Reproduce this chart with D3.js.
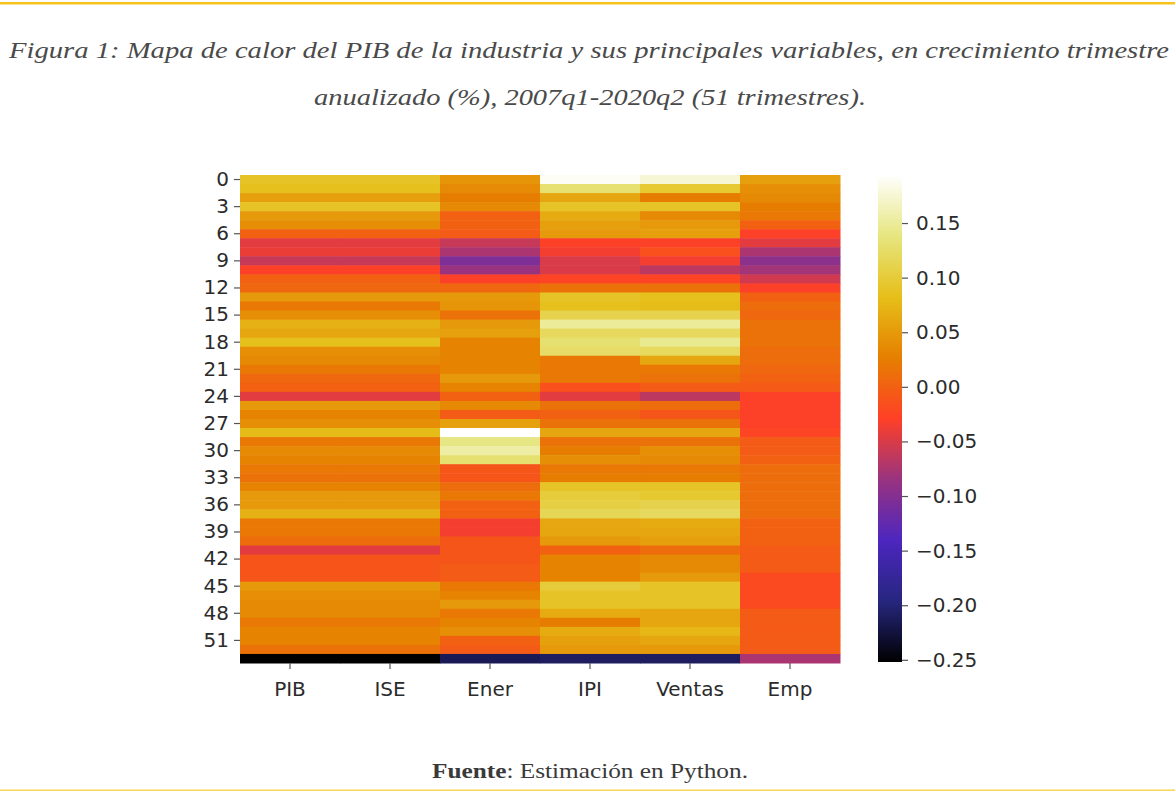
<!DOCTYPE html>
<html>
<head>
<meta charset="utf-8">
<script src="https://cdn.jsdelivr.net/npm/d3@7"></script>
<style>
  html, body { margin: 0; padding: 0; background: #ffffff; }
  svg { display: block; }
</style>
</head>
<body>
<svg id="chart" width="1175" height="793"></svg>
<script>
// Quarterly annualised growth, 2007q1-2020q2 (rows 0..53)
const variables = ["PIB", "ISE", "Ener", "IPI", "Ventas", "Emp"];

const pib = [0.09, 0.085, 0.055, 0.09, 0.05, 0.04, 0.0, -0.045, -0.04, -0.06,
  -0.03, 0.0, 0.005, 0.05, 0.02, 0.04, 0.07, 0.06, 0.085, 0.04,
  0.035, 0.02, 0.005, 0.0, -0.045, 0.05, 0.03, 0.04, 0.08, 0.02,
  0.035, 0.03, 0.02, 0.015, 0.03, 0.05, 0.05, 0.07, 0.02, 0.02,
  0.01, -0.045, -0.01, -0.01, -0.01, 0.05, 0.04, 0.035, 0.035, 0.02,
  0.03, 0.03, 0.015, -0.252];

const ise = [0.09, 0.085, 0.055, 0.09, 0.05, 0.04, 0.0, -0.045, -0.04, -0.06,
  -0.03, 0.0, 0.005, 0.05, 0.02, 0.04, 0.07, 0.06, 0.085, 0.04,
  0.035, 0.02, 0.005, 0.0, -0.045, 0.05, 0.03, 0.04, 0.08, 0.02,
  0.035, 0.03, 0.02, 0.015, 0.03, 0.05, 0.05, 0.07, 0.02, 0.02,
  0.01, -0.045, -0.01, -0.01, -0.01, 0.05, 0.04, 0.035, 0.035, 0.02,
  0.03, 0.03, 0.015, -0.252];

const ener = [0.045, 0.035, 0.025, 0.035, 0.0, 0.0, -0.005, -0.06, -0.075, -0.105,
  -0.085, -0.03, 0.005, 0.05, 0.045, 0.015, 0.05, 0.055, 0.03, 0.03,
  0.03, 0.03, 0.05, 0.03, 0.0, 0.035, -0.005, 0.055, 0.194, 0.14,
  0.155, 0.13, -0.01, -0.01, 0.01, 0.02, 0.0, 0.0, -0.035, -0.035,
  -0.01, -0.01, -0.01, -0.005, -0.005, 0.02, 0.03, 0.05, 0.02, 0.03,
  0.04, 0.0, -0.005, -0.215];

const ipi = [0.19, 0.13, 0.06, 0.09, 0.065, 0.055, 0.05, -0.03, -0.035, -0.05,
  -0.05, -0.025, 0.015, 0.09, 0.085, 0.11, 0.15, 0.12, 0.13, 0.125,
  0.02, 0.02, 0.02, -0.015, -0.045, 0.015, 0.0, 0.015, 0.06, 0.015,
  0.025, 0.04, 0.02, 0.025, 0.09, 0.1, 0.105, 0.115, 0.06, 0.06,
  0.05, 0.0, 0.03, 0.03, 0.03, 0.1, 0.09, 0.09, 0.065, 0.025,
  0.065, 0.055, 0.05, -0.21];

const ventas = [0.175, 0.095, 0.025, 0.09, 0.035, 0.05, 0.055, -0.03, -0.015, -0.035,
  -0.065, -0.025, 0.015, 0.085, 0.08, 0.11, 0.15, 0.12, 0.145, 0.12,
  0.06, 0.02, 0.015, -0.005, -0.065, 0.01, -0.01, 0.015, 0.06, 0.015,
  0.04, 0.035, 0.02, 0.025, 0.09, 0.095, 0.11, 0.12, 0.065, 0.06,
  0.055, 0.01, 0.035, 0.035, 0.05, 0.09, 0.09, 0.09, 0.06, 0.06,
  0.075, 0.06, 0.05, -0.21];

const emp = [0.055, 0.04, 0.035, 0.025, 0.02, 0.0, -0.03, -0.045, -0.075, -0.095,
  -0.08, -0.055, -0.03, 0.0, 0.01, 0.005, 0.015, 0.015, 0.015, 0.01,
  0.01, 0.005, 0.0, -0.005, -0.03, -0.03, -0.03, -0.03, -0.025, -0.005,
  -0.005, 0.0, 0.01, 0.01, 0.01, 0.01, 0.01, 0.01, 0.0, 0.0,
  0.0, -0.005, -0.005, -0.005, -0.02, -0.02, -0.02, -0.02, -0.005, -0.005,
  -0.005, -0.005, -0.005, -0.075];

const colorbarTicks = [-0.25, -0.20, -0.15, -0.10, -0.05, 0.00, 0.05, 0.10, 0.15];

const series = [pib, ise, ener, ipi, ventas, emp];
const rowIndex = d3.range(pib.length);

// Long-form table built from the named arrays
const cells = [];
variables.forEach((v, j) => {
  series[j].forEach((val, i) => cells.push({ variable: v, row: i, value: val }));
});

const vmin = d3.min(series.flat());
const vmax = d3.max(series.flat());

// CMRmap colour map (piecewise linear in RGB)
const cmrStops = [0, 0.125, 0.25, 0.375, 0.5, 0.625, 0.75, 0.875, 1];
const cmrColors = [
  [0.00, 0.00, 0.00], [0.15, 0.15, 0.50], [0.30, 0.15, 0.75],
  [0.60, 0.20, 0.50], [1.00, 0.25, 0.15], [0.90, 0.50, 0.00],
  [0.90, 0.75, 0.10], [0.90, 0.90, 0.50], [1.00, 1.00, 1.00]
].map(c => d3.rgb(c[0] * 255, c[1] * 255, c[2] * 255));
const cmr = d3.scaleLinear().domain(cmrStops).range(cmrColors)
  .interpolate(d3.interpolateRgb).clamp(true);
const norm = d3.scaleLinear().domain([vmin, vmax]).clamp(true);
const color = v => cmr(norm(v));

const svg = d3.select("#chart");
const tickFont = "'DejaVu Sans', sans-serif";
const textColor = "#2b2b2b";

// Page rules
svg.append("rect").attr("x", 0).attr("y", 2).attr("width", 1175).attr("height", 2.5)
  .attr("fill", "#f5c31c");
svg.append("rect").attr("x", 0).attr("y", 789.5).attr("width", 1175).attr("height", 1.5)
  .attr("fill", "#f7d65a");

// Caption
const titleG = svg.append("g")
  .attr("font-family", "'Liberation Serif', 'DejaVu Serif', serif")
  .attr("font-style", "italic")
  .attr("font-size", 23)
  .attr("fill", "#4a4a4a")
  .attr("text-anchor", "middle");
titleG.append("text").attr("x", 589).attr("y", 58)
  .attr("textLength", 1160).attr("lengthAdjust", "spacingAndGlyphs")
  .text("Figura 1: Mapa de calor del PIB de la industria y sus principales variables, en crecimiento trimestre");
titleG.append("text").attr("x", 590).attr("y", 105)
  .attr("textLength", 552).attr("lengthAdjust", "spacingAndGlyphs")
  .text("anualizado (%), 2007q1-2020q2 (51 trimestres).");

// Heatmap
const x = d3.scaleBand().domain(variables).range([240, 840]).padding(0);
const y = d3.scaleBand().domain(rowIndex).range([175, 663]).padding(0);

svg.append("g").selectAll("rect")
  .data(cells)
  .join("rect")
  .attr("x", d => x(d.variable))
  .attr("y", d => y(d.row))
  .attr("width", x.bandwidth() + 0.5)
  .attr("height", y.bandwidth() + 0.5)
  .attr("fill", d => color(d.value));

function styleAxis(g) {
  g.select(".domain").remove();
  g.selectAll(".tick line").attr("stroke", "#555").attr("stroke-width", 1.2);
  g.selectAll(".tick text").attr("fill", textColor)
    .attr("font-family", tickFont).attr("font-size", 20);
}

svg.append("g")
  .attr("transform", "translate(240,0)")
  .call(d3.axisLeft(y).tickValues(rowIndex.filter(i => i % 3 === 0)).tickSize(6).tickPadding(5))
  .call(styleAxis);

svg.append("g")
  .attr("transform", "translate(0,663)")
  .call(d3.axisBottom(x).tickSize(6).tickPadding(13))
  .call(styleAxis);

// Colour bar
const cbX = 878, cbW = 24;
const cbScale = d3.scaleLinear().domain([vmin, vmax]).range([662, 175]);
const defs = svg.append("defs");
const grad = defs.append("linearGradient").attr("id", "cbgrad")
  .attr("x1", 0).attr("y1", 1).attr("x2", 0).attr("y2", 0);
d3.range(0, 1.0001, 0.01).forEach(t => {
  grad.append("stop").attr("offset", t).attr("stop-color", cmr(t));
});
svg.append("rect").attr("x", cbX).attr("y", 175).attr("width", cbW).attr("height", 487)
  .attr("fill", "url(#cbgrad)");

svg.append("g")
  .attr("transform", `translate(${cbX + cbW},0)`)
  .call(d3.axisRight(cbScale).tickValues(colorbarTicks).tickSize(6).tickPadding(8)
    .tickFormat(d => d3.format(".2f")(d).replace("-", "\u2212")))
  .call(styleAxis);

// Source note
const src = svg.append("text")
  .attr("x", 590).attr("y", 778)
  .attr("text-anchor", "middle")
  .attr("font-family", "'Liberation Serif', 'DejaVu Serif', serif")
  .attr("font-size", 21)
  .attr("fill", "#3a3a3a")
  .attr("textLength", 316).attr("lengthAdjust", "spacingAndGlyphs");
src.append("tspan").attr("font-weight", "bold").text("Fuente");
src.append("tspan").text(": Estimación en Python.");
</script>
</body>
</html>
